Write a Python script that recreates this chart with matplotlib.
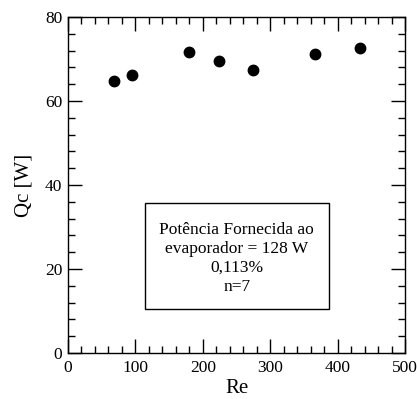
import matplotlib
matplotlib.use("Agg")
import matplotlib.pyplot as plt
from matplotlib.ticker import MultipleLocator
from matplotlib.patches import Rectangle

re_vals = [68, 95, 179, 224, 275, 366, 433]
qc_vals = [64.8, 66.2, 71.7, 69.5, 67.5, 71.1, 72.7]
box_lines = ["Potência Fornecida ao", "evaporador = 128 W", "0,113%", "n=7"]

plt.rcParams['font.family'] = ['Liberation Serif', 'DejaVu Serif']

fig = plt.figure(figsize=(4.17, 3.99), dpi=100)
ax = fig.add_axes([68/417, 1-353/399, (405-68)/417, (353-17)/399])
ax.plot(re_vals, qc_vals, 'o', color='black', markersize=7.5, zorder=3)
ax.set_xlim(0, 500)
ax.set_ylim(0, 80)
ax.xaxis.set_major_locator(MultipleLocator(100))
ax.xaxis.set_minor_locator(MultipleLocator(20))
ax.yaxis.set_major_locator(MultipleLocator(20))
ax.yaxis.set_minor_locator(MultipleLocator(4))
ax.tick_params(which='both', direction='in', top=True, right=True, labelsize=12.5, width=1)
ax.tick_params(which='major', length=10)
ax.tick_params(axis='x', which='major', pad=5)
ax.tick_params(axis='y', which='major', pad=4)
ax.tick_params(which='minor', length=5)
for s in ax.spines.values():
    s.set_linewidth(1)
ax.set_xlabel("Re", fontsize=15, labelpad=2)
ax.set_ylabel("Qc [W]", fontsize=15, labelpad=8)

rect = Rectangle((114, 10.5), 273, 25.2, fill=False, edgecolor='black', linewidth=1, zorder=2)
ax.add_patch(rect)
ax.text(250.5, 22.6, "\n".join(box_lines), ha='center', va='center', fontsize=12.5, linespacing=1.25)

fig.savefig("out.png", dpi=100)
